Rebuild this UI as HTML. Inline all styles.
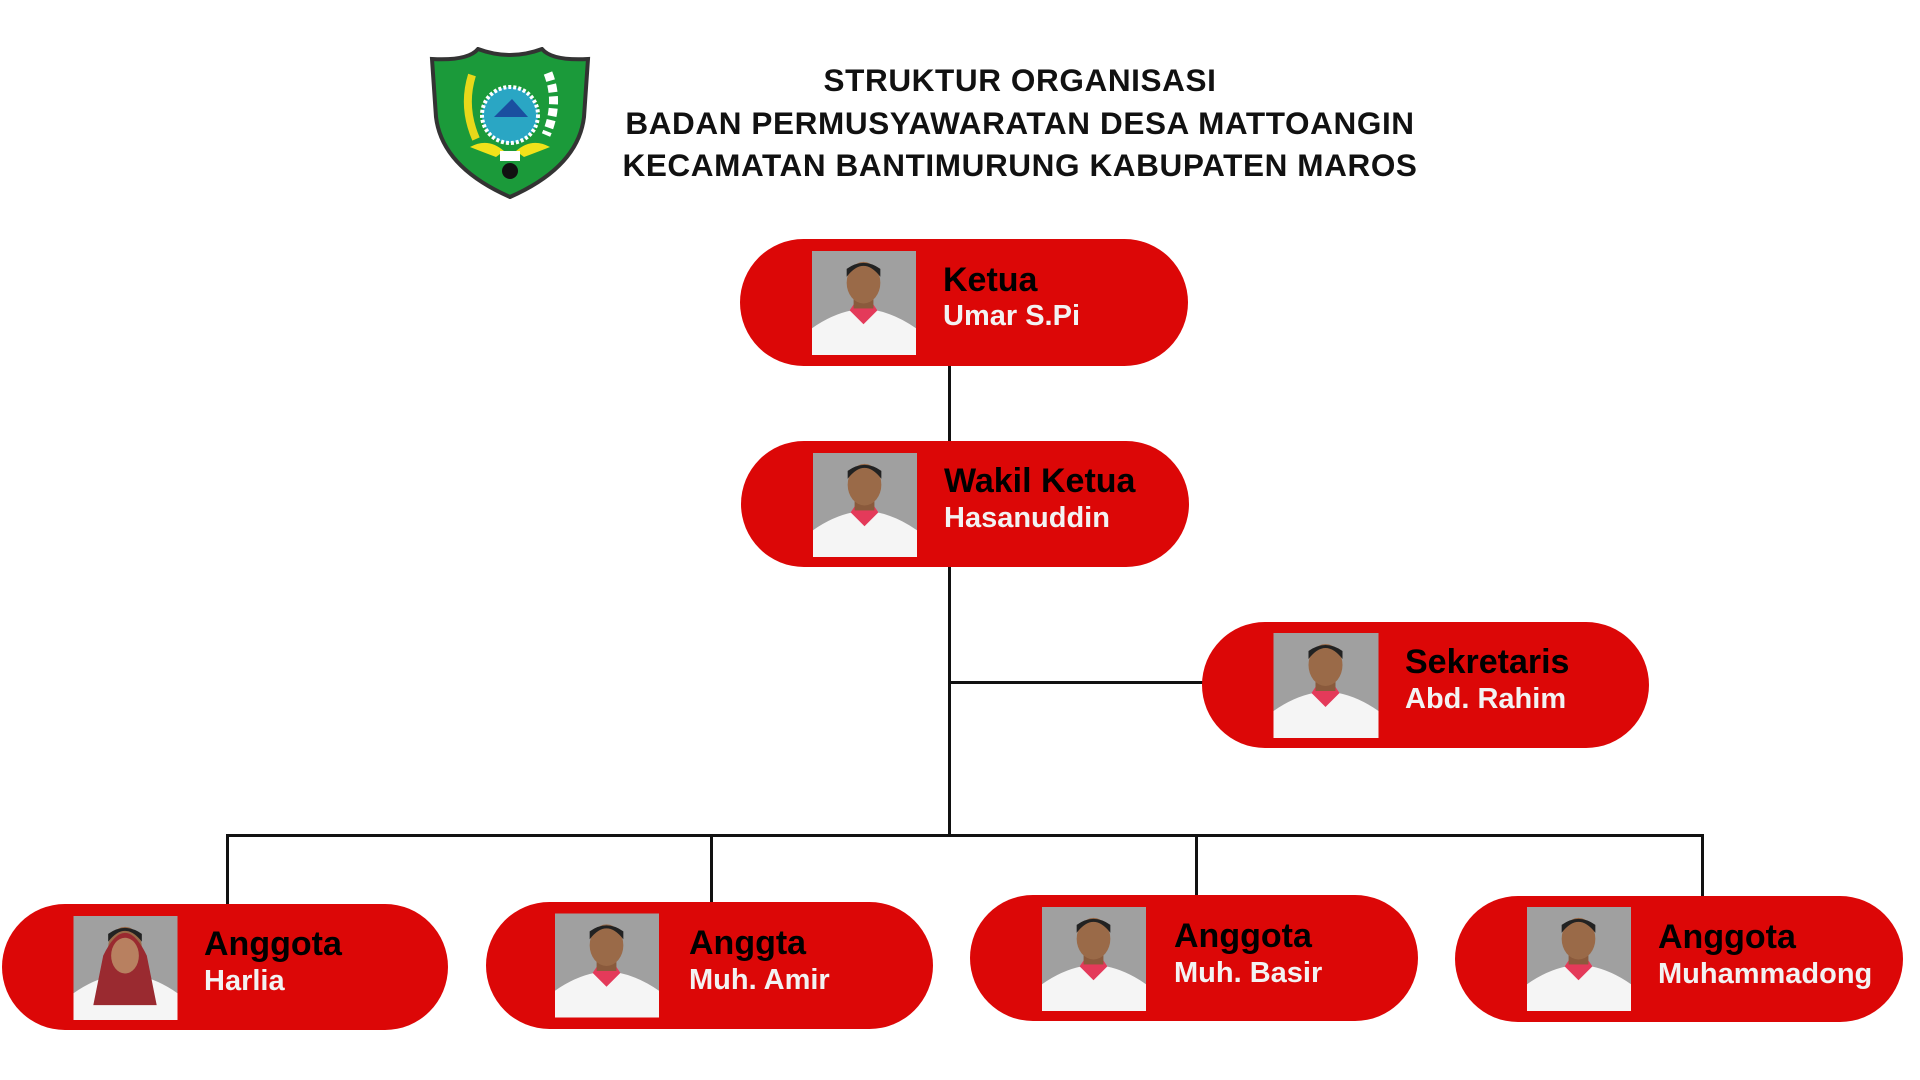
<!DOCTYPE html>
<html><head><meta charset="utf-8"><style>
body{margin:0;width:1920px;height:1080px;background:#fff;position:relative;overflow:hidden;font-family:"Liberation Sans",sans-serif}
.t{position:absolute;left:0;width:2040px;text-align:center;font-weight:bold;font-size:31.5px;color:#111;letter-spacing:0.6px}
.pill{position:absolute;background:#dc0707;border-radius:64px}
.ph{position:absolute}
.ln{position:absolute;background:#111}
.nt{position:absolute;font-weight:bold;font-size:34px;color:#000;white-space:nowrap}
.nn{position:absolute;font-weight:bold;font-size:29px;color:#f2f2f2;white-space:nowrap}
</style></head><body>
<svg style="position:absolute;left:428px;top:47px" width="164" height="152" viewBox="0 0 164 152">
<path d="M4 12 Q40 14 50 2 Q82 14 114 2 Q124 14 160 12 L156 70 Q150 120 82 150 Q14 120 8 70 Z" fill="#1b9a3a" stroke="#333" stroke-width="4"/>
<circle cx="82" cy="68" r="28" fill="#2aa6c4" stroke="#fff" stroke-width="4" stroke-dasharray="3 2"/>
<path d="M66 70 L84 52 L100 70 Z" fill="#1a4fa0"/>
<path d="M42 100 Q60 90 76 104 L68 110 Q52 104 42 100Z M122 100 Q104 90 88 104 L96 110 Q112 104 122 100Z" fill="#f2e21a"/>
<path d="M44 28 Q34 60 48 92" stroke="#e8d81a" stroke-width="8" fill="none"/>
<path d="M120 26 Q132 56 118 88" stroke="#fff" stroke-width="9" fill="none" stroke-dasharray="8 4"/>
<rect x="72" y="104" width="20" height="10" fill="#fff"/>
<circle cx="82" cy="124" r="8" fill="#111"/>
</svg>
<div class="t" style="top:62px">STRUKTUR ORGANISASI</div>
<div class="t" style="top:105px">BADAN PERMUSYAWARATAN DESA MATTOANGIN</div>
<div class="t" style="top:147px">KECAMATAN BANTIMURUNG KABUPATEN MAROS</div>

<div class="ln" style="left:948px;top:366px;width:3px;height:76px"></div>
<div class="ln" style="left:948px;top:567px;width:3px;height:270px"></div>
<div class="ln" style="left:949px;top:681px;width:255px;height:3px"></div>
<div class="ln" style="left:226px;top:834px;width:1478px;height:3px"></div>
<div class="ln" style="left:226px;top:834px;width:3px;height:72px"></div>
<div class="ln" style="left:710px;top:834px;width:3px;height:70px"></div>
<div class="ln" style="left:1195px;top:834px;width:3px;height:63px"></div>
<div class="ln" style="left:1701px;top:834px;width:3px;height:64px"></div>

<div class="pill" style="left:740px;top:239px;width:448px;height:127px"></div>
<div class="pill" style="left:741px;top:441px;width:448px;height:126px"></div>
<div class="pill" style="left:1202px;top:622px;width:447px;height:126px"></div>
<div class="pill" style="left:2px;top:904px;width:446px;height:126px"></div>
<div class="pill" style="left:486px;top:902px;width:447px;height:127px"></div>
<div class="pill" style="left:970px;top:895px;width:448px;height:126px"></div>
<div class="pill" style="left:1455px;top:896px;width:448px;height:126px"></div>

<svg width="0" height="0" style="position:absolute"><defs><g id="p"><rect width="105" height="105" fill="#a0a0a0"/><path d="M0 105 L0 78 Q20 64 40 60 L65 60 Q85 64 105 78 L105 105Z" fill="#f5f5f5"/><path d="M38 60 L52 74 L66 60 L62 54 L42 54Z" fill="#e43a5a"/><rect x="42" y="40" width="20" height="18" fill="#8a5a3c"/><ellipse cx="52" cy="32" rx="17" ry="21" fill="#9a6a48"/><path d="M35 26 Q52 4 69 26 L69 18 Q52 6 35 18Z" fill="#222"/></g></defs></svg>
<svg class="ph" style="left:812px;top:251px" width="104" height="104" viewBox="0 0 105 105"><use href="#p"/></svg>
<svg class="ph" style="left:813px;top:453px" width="104" height="104" viewBox="0 0 105 105"><use href="#p"/></svg>
<svg class="ph" style="left:1273px;top:633px" width="106" height="105" viewBox="0 0 105 105"><use href="#p"/></svg>
<svg class="ph" style="left:73px;top:916px" width="105" height="104" viewBox="0 0 105 105"><use href="#p"/><path d="M30 40 Q52 -6 74 40 L84 90 L20 90Z" fill="#9a2a30"/><ellipse cx="52" cy="40" rx="14" ry="18" fill="#b88060"/></svg>
<svg class="ph" style="left:555px;top:913px" width="104" height="105" viewBox="0 0 105 105"><use href="#p"/></svg>
<svg class="ph" style="left:1042px;top:907px" width="104" height="104" viewBox="0 0 105 105"><use href="#p"/></svg>
<svg class="ph" style="left:1527px;top:907px" width="104" height="104" viewBox="0 0 105 105"><use href="#p"/></svg>

<div class="nt" style="left:943px;top:261px">Ketua</div>
<div class="nn" style="left:943px;top:300px">Umar S.Pi</div>
<div class="nt" style="left:944px;top:462px">Wakil Ketua</div>
<div class="nn" style="left:944px;top:502px">Hasanuddin</div>
<div class="nt" style="left:1405px;top:643px">Sekretaris</div>
<div class="nn" style="left:1405px;top:683px">Abd. Rahim</div>
<div class="nt" style="left:204px;top:925px">Anggota</div>
<div class="nn" style="left:204px;top:965px">Harlia</div>
<div class="nt" style="left:689px;top:924px">Anggta</div>
<div class="nn" style="left:689px;top:964px">Muh. Amir</div>
<div class="nt" style="left:1174px;top:917px">Anggota</div>
<div class="nn" style="left:1174px;top:957px">Muh. Basir</div>
<div class="nt" style="left:1658px;top:918px">Anggota</div>
<div class="nn" style="left:1658px;top:958px">Muhammadong</div>
</body></html>
